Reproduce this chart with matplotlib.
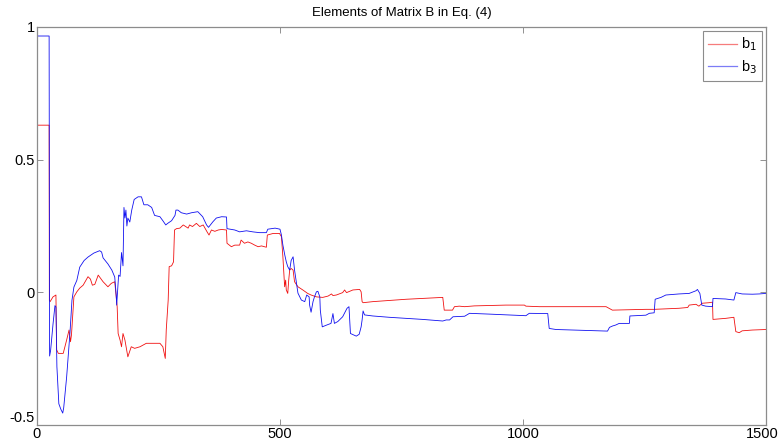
import numpy as np
import matplotlib.pyplot as plt
import matplotlib.transforms as mtransforms

# values (x = sample index, y = element value)
b1_x = [0, 25, 25.5, 27, 33, 39, 40.5, 44, 54, 61, 66, 69, 71, 73, 76, 82, 88, 95, 105, 110,
        114, 119, 126, 136, 146, 153, 160, 165, 167, 171, 174, 177, 181, 187, 194, 201, 212,
        225, 239, 253, 259, 264, 266, 270, 272, 277, 281, 283, 287, 294, 301, 311, 314, 320,
        328, 335, 342, 350, 354, 359, 366, 373, 380, 390, 391, 400, 407, 417, 420, 427, 434,
        441, 448, 455, 462, 472, 474, 486, 499, 503, 506, 507.5, 509.6, 511.7, 513, 516, 518,
        520, 523, 527, 530, 537, 547, 557, 564, 575, 588, 599, 606, 609, 616, 629, 633, 637,
        650, 664, 667, 669, 671, 691, 760, 835, 838, 855, 859, 869, 880, 900, 965, 1003, 1006,
        1034, 1171, 1184, 1253, 1270, 1321, 1339, 1342, 1356, 1362, 1369, 1383, 1390, 1391,
        1417, 1434, 1438, 1445, 1451, 1472, 1500]
b1_y = [0.63, 0.63, -0.03, -0.035, -0.017, -0.01, -0.217, -0.23, -0.23, -0.18, -0.142, -0.186,
        -0.16, -0.104, -0.017, 0.002, 0.016, 0.027, 0.059, 0.05, 0.027, 0.03, 0.065, 0.04,
        0.021, 0.034, 0.04, -0.054, -0.155, -0.18, -0.205, -0.155, -0.18, -0.243, -0.205,
        -0.211, -0.205, -0.192, -0.192, -0.192, -0.205, -0.249, -0.142, -0.029, 0.097, 0.10,
        0.115, 0.235, 0.24, 0.242, 0.254, 0.242, 0.254, 0.248, 0.26, 0.248, 0.254, 0.228,
        0.216, 0.235, 0.23, 0.235, 0.237, 0.235, 0.185, 0.172, 0.178, 0.178, 0.197, 0.185,
        0.19, 0.185, 0.178, 0.172, 0.175, 0.17, 0.216, 0.222, 0.222, 0.21, 0.134, 0.084,
        0.021, 0.046, 0.009, -0.004, 0.046, 0.084, 0.09, 0.084, 0.04, 0.021, 0.009, -0.004,
        -0.01, -0.017, -0.019, -0.014, -0.006, -0.012, -0.01, -0.001, 0.009, -0.001, 0.009,
        0.011, 0.002, -0.035, -0.039, -0.035, -0.026, -0.019, -0.067, -0.067, -0.054, -0.052,
        -0.054, -0.051, -0.048, -0.048, -0.052, -0.054, -0.054, -0.067, -0.064, -0.064, -0.06,
        -0.057, -0.048, -0.045, -0.052, -0.041, -0.039, -0.037, -0.102, -0.098, -0.094, -0.148,
        -0.152, -0.145, -0.142, -0.14]

b3_x = [0, 25, 26, 28, 33, 37, 39, 41, 45, 49, 53, 55, 61, 68, 72, 76, 82, 88, 97, 105, 117,
        129, 133, 136, 146, 154, 160, 163, 164, 166, 168, 171, 174, 177, 179, 181, 183, 185,
        187, 191, 195, 200, 208, 215, 220, 228, 236, 242, 253, 259, 265, 269, 277, 284, 286,
        290, 297, 308, 318, 331, 341, 349, 353, 362, 369, 380, 390, 391, 407, 417, 431, 444,
        458, 472, 475, 490, 500, 503, 506, 510, 513, 516, 520, 523, 527, 530, 534, 537, 544,
        551, 555, 560, 561, 564, 568, 571, 575, 578, 582, 583, 587, 595, 605, 609, 612, 619,
        629, 638, 642, 645, 657, 663, 667, 669, 671, 674, 691, 725, 760, 794, 835, 842, 849,
        856, 880, 890, 931, 1006, 1013, 1051, 1054, 1068, 1102, 1174, 1178, 1184, 1191, 1198,
        1219, 1220, 1253, 1260, 1270, 1272, 1284, 1294, 1321, 1342, 1356, 1359, 1364, 1368,
        1376, 1390, 1391, 1417, 1434, 1438, 1451, 1472, 1486, 1500]
b3_y = [0.966, 0.966, -0.24, -0.22, -0.12, -0.05, -0.055, -0.28, -0.42, -0.44, -0.455, -0.435,
        -0.32, -0.15, -0.03, 0.02, 0.045, 0.095, 0.12, 0.133, 0.148, 0.157, 0.152, 0.13, 0.107,
        0.084, 0.058, -0.01, -0.048, 0.01, 0.065, 0.06, 0.15, 0.10, 0.32, 0.28, 0.31, 0.25,
        0.28, 0.265, 0.31, 0.35, 0.36, 0.36, 0.33, 0.33, 0.32, 0.29, 0.285, 0.27, 0.254, 0.26,
        0.27, 0.29, 0.31, 0.31, 0.30, 0.295, 0.30, 0.304, 0.285, 0.254, 0.245, 0.266, 0.28,
        0.285, 0.284, 0.24, 0.235, 0.228, 0.232, 0.228, 0.225, 0.225, 0.238, 0.242, 0.238,
        0.216, 0.178, 0.14, 0.115, 0.097, 0.084, 0.12, 0.134, 0.084, 0.035, -0.003, -0.029,
        -0.035, -0.01, -0.017, -0.048, -0.075, -0.035, -0.017, 0.002, 0.004, -0.017, -0.067,
        -0.13, -0.124, -0.117, -0.08, -0.117, -0.11, -0.092, -0.06, -0.054, -0.155, -0.165,
        -0.158, -0.13, -0.104, -0.07, -0.085, -0.089, -0.094, -0.098, -0.102, -0.108, -0.104,
        -0.104, -0.092, -0.09, -0.079, -0.082, -0.088, -0.079, -0.08, -0.136, -0.14, -0.142,
        -0.146, -0.132, -0.127, -0.123, -0.117, -0.117, -0.089, -0.086, -0.079, -0.077, -0.026,
        -0.019, -0.01, -0.006, -0.004, 0.006, 0.011, -0.004, -0.048, -0.052, -0.054, -0.023,
        -0.025, -0.029, -0.001, -0.006, -0.007, -0.006, -0.004]

x_ticks = [0, 500, 1000, 1500]
y_ticks = [-0.5, 0, 0.5, 1]
y_labels = ["-0.5", "0", "0.5", "1"]

plt.rcParams['font.family'] = ['Liberation Sans', 'DejaVu Sans']

fig = plt.figure(figsize=(7.8, 4.46), dpi=100)
ax = fig.add_axes([0.0474, 0.047, 0.9346, 0.8925])

ax.plot(b1_x, b1_y, color="#f01010", linewidth=0.6, label="b$_1$")
ax.plot(b3_x, b3_y, color="#1010f0", linewidth=0.6, label="b$_3$")

ax.set_xlim(0, 1500)
ax.set_ylim(-0.5, 1)
ax.set_xticks(x_ticks)
ax.set_xticklabels([str(t) for t in x_ticks])
ax.set_yticks(y_ticks)
ax.set_yticklabels(y_labels)
ax.tick_params(direction="in", length=4, width=0.6, color="#808080",
               labelsize=10.5, top=True, right=True, pad=1.5)
for sp in ax.spines.values():
    sp.set_color("#8c8c8c")
    sp.set_linewidth(0.9)

# keep the last x label inside the canvas: nudge it a few pixels left
last = ax.get_xticklabels()[-1]
last.set_transform(last.get_transform() + mtransforms.ScaledTranslation(-4 / 100, 0, fig.dpi_scale_trans))
ax.get_yticklabels()[0].set_va("bottom")

ax.set_title("Elements of Matrix B in Eq. (4)", fontsize=9.5, pad=8)

leg = ax.legend(loc="upper right", fontsize=10.5, handlelength=2.0, handletextpad=0.3,
                borderpad=0.3, labelspacing=0.35, fancybox=False, framealpha=1,
                borderaxespad=0.3)
leg.get_frame().set_edgecolor("#8c8c8c")
leg.get_frame().set_linewidth(0.8)
for h in leg.get_lines():
    h.set_alpha(0.55)
    h.set_linewidth(0.9)

fig.savefig("out.png", dpi=100)
